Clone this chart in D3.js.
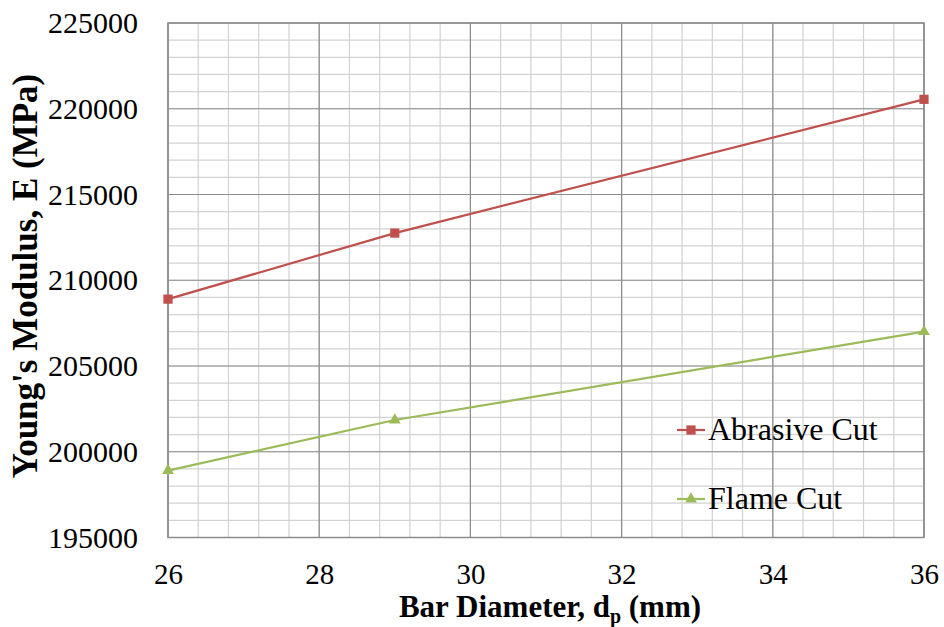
<!DOCTYPE html>
<html>
<head>
<meta charset="utf-8">
<script src="https://cdn.jsdelivr.net/npm/d3@7"></script>
<style>
  body { margin: 0; background: #fff; }
  svg text { font-family: "Liberation Serif", "DejaVu Serif", serif; fill: #000; }
</style>
</head>
<body>
<svg id="chart" width="944" height="627"></svg>
<script>
const diameters = [26, 29, 36];
const abrasiveCut = [208900, 212750, 220550];
const flameCut = [198900, 201850, 207000];
const xTicks = [26, 28, 30, 32, 34, 36];
const yTicks = [195000, 200000, 205000, 210000, 215000, 220000, 225000];
const seriesNames = ['Abrasive Cut', 'Flame Cut'];

const serif = '"Liberation Serif", "DejaVu Serif", serif';
const svg = d3.select('#chart');
const margin = { top: 23, right: 20, bottom: 89.5, left: 168 };
const width = +svg.attr('width') - margin.left - margin.right;
const height = +svg.attr('height') - margin.top - margin.bottom;

const x = d3.scaleLinear().domain([26, 36]).range([0, width]);
const y = d3.scaleLinear().domain([195000, 225000]).range([height, 0]);

const g = svg.append('g').attr('transform', `translate(${margin.left},${margin.top})`);

// minor grid
g.append('g')
  .selectAll('line')
  .data(d3.range(26, 36.001, 0.4))
  .join('line')
  .attr('x1', d => x(d)).attr('x2', d => x(d))
  .attr('y1', 0).attr('y2', height)
  .attr('stroke', '#d2d2d2').attr('stroke-width', 1.2);
g.append('g')
  .selectAll('line')
  .data(d3.range(195000, 225001, 1000))
  .join('line')
  .attr('y1', d => y(d)).attr('y2', d => y(d))
  .attr('x1', 0).attr('x2', width)
  .attr('stroke', '#d2d2d2').attr('stroke-width', 1.2);

// major grid
g.append('g')
  .selectAll('line')
  .data(xTicks)
  .join('line')
  .attr('x1', d => x(d)).attr('x2', d => x(d))
  .attr('y1', 0).attr('y2', height)
  .attr('stroke', '#8c8c8c').attr('stroke-width', 1.2);
g.append('g')
  .selectAll('line')
  .data(yTicks)
  .join('line')
  .attr('y1', d => y(d)).attr('y2', d => y(d))
  .attr('x1', 0).attr('x2', width)
  .attr('stroke', '#8c8c8c').attr('stroke-width', 1.2);

g.append('rect')
  .attr('width', width).attr('height', height)
  .attr('fill', 'none').attr('stroke', '#8c8c8c').attr('stroke-width', 1.5);

// axes (labels only)
const xAxis = g.append('g')
  .attr('transform', `translate(0,${height})`)
  .attr('font-family', serif)
  .call(d3.axisBottom(x).tickValues(xTicks).tickSize(0).tickPadding(26).tickFormat(d3.format('d')));
xAxis.select('.domain').remove();
xAxis.selectAll('text').attr('font-size', 29).style('font-family', serif);

const yAxis = g.append('g')
  .attr('font-family', serif)
  .call(d3.axisLeft(y).tickValues(yTicks).tickSize(0).tickPadding(30).tickFormat(d3.format('d')));
yAxis.select('.domain').remove();
yAxis.selectAll('text').attr('font-size', 30).style('font-family', serif);

// lines
const line = d3.line().x((d, i) => x(diameters[i])).y(d => y(d));
const series = [
  { name: seriesNames[0], values: abrasiveCut, color: '#c0504d', symbol: d3.symbolSquare },
  { name: seriesNames[1], values: flameCut, color: '#9bbb59', symbol: d3.symbolTriangle }
];

series.forEach(s => {
  g.append('path')
    .datum(s.values)
    .attr('fill', 'none')
    .attr('stroke', s.color)
    .attr('stroke-width', 2.2)
    .attr('d', line);
  g.append('g')
    .selectAll('path')
    .data(s.values)
    .join('path')
    .attr('transform', (d, i) => `translate(${x(diameters[i])},${y(d)})`)
    .attr('d', d3.symbol().type(s.symbol).size(s.symbol === d3.symbolSquare ? 85 : 60))
    .attr('fill', s.color);
});

// legend
const legend = svg.append('g').attr('transform', 'translate(677,430)');
series.forEach((s, i) => {
  const row = legend.append('g').attr('transform', `translate(0,${i * 69})`);
  row.append('line').attr('x1', 0).attr('x2', 28).attr('stroke', s.color).attr('stroke-width', 2.2);
  row.append('path')
    .attr('transform', 'translate(14,0)')
    .attr('d', d3.symbol().type(s.symbol).size(s.symbol === d3.symbolSquare ? 85 : 60))
    .attr('fill', s.color);
  row.append('text')
    .attr('x', 31).attr('y', 10)
    .attr('font-size', 32)
    .style('font-family', serif)
    .text(s.name);
});

// axis titles
const xTitle = svg.append('text')
  .attr('x', 550)
  .attr('y', 617)
  .attr('text-anchor', 'middle')
  .attr('font-size', 31)
  .attr('font-weight', 'bold')
  .style('font-family', serif);
xTitle.append('tspan').text('Bar Diameter, d');
xTitle.append('tspan').attr('font-size', 20).attr('dy', 6).text('p');
xTitle.append('tspan').attr('dy', -6).text(' (mm)');

svg.append('text')
  .attr('transform', 'translate(37,276) rotate(-90)')
  .attr('text-anchor', 'middle')
  .attr('font-size', 35)
  .attr('font-weight', 'bold')
  .style('font-family', serif)
  .text("Young's Modulus, E (MPa)");
</script>
</body>
</html>
